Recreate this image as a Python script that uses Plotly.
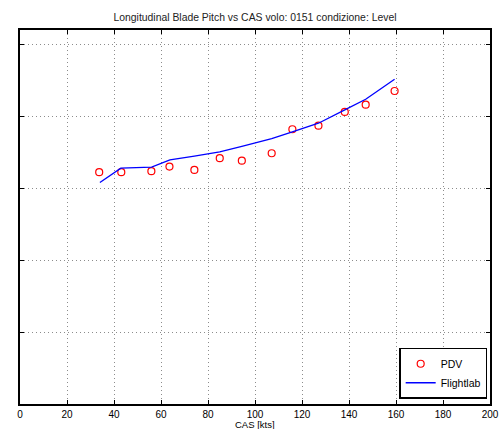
import plotly.graph_objects as go

# PDV flight data (CAS [kts], longitudinal blade pitch, axis units)
pdv_cas = [33.7, 43.1, 55.9, 63.6, 74.2, 85.0, 94.4, 107.1, 115.9, 127.0, 138.2, 147.1, 159.4]
pdv_pitch = [3.222, 3.222, 3.236, 3.300, 3.254, 3.417, 3.383, 3.486, 3.819, 3.869, 4.060, 4.161, 4.351]

# Flightlab simulation
fl_cas = [34.0, 42.9, 56.0, 63.8, 74.2, 85.0, 94.4, 107.1, 115.9, 127.0, 138.2, 147.1, 159.4]
fl_pitch = [3.078, 3.278, 3.292, 3.393, 3.446, 3.504, 3.581, 3.690, 3.782, 3.903, 4.088, 4.236, 4.514]

x_ticks = [0, 20, 40, 60, 80, 100, 120, 140, 160, 180, 200]
y_ticks = [0, 1, 2, 3, 4, 5]

title_text = "Longitudinal Blade Pitch vs CAS volo: 0151 condizione: Level"
x_title = "CAS [kts]"

font_family = "Liberation Sans, Arial, Helvetica, sans-serif"

fig = go.Figure()
fig.add_trace(go.Scatter(
    x=pdv_cas, y=pdv_pitch, mode="markers", name="PDV",
    marker=dict(symbol="circle-open", size=7, color="#ff0000", line=dict(width=1.2, color="#ff0000")),
))
fig.add_trace(go.Scatter(
    x=fl_cas, y=fl_pitch, mode="lines", name="Flightlab",
    line=dict(color="#0000ff", width=1.3),
))

axis_common = dict(
    showline=True, linecolor="black", linewidth=1.5, mirror="ticks",
    ticks="inside", ticklen=4, tickcolor="black", tickwidth=1,
    showgrid=True, gridcolor="#8c8c8c", griddash="1px,3px", gridwidth=1,
    zeroline=False, automargin=False,
)

fig.update_layout(
    width=502, height=429,
    margin=dict(l=20, r=12, t=30, b=25, autoexpand=False),
    paper_bgcolor="white", plot_bgcolor="white",
    font=dict(family=font_family, size=10, color="black"),
    title=dict(text=title_text, x=(255 / 502), xanchor="center", y=1 - 17 / 429, yanchor="middle",
               font=dict(size=10.4, color="#222")),
    xaxis=dict(range=[0, 200], tickvals=x_ticks, ticktext=[str(v) for v in x_ticks],
               tickfont=dict(size=10), **axis_common),
    yaxis=dict(range=[0, 5.199], tickvals=y_ticks, showticklabels=False, **axis_common),
    legend=dict(x=0.994, y=0.014, xanchor="right", yanchor="bottom",
                bgcolor="white", bordercolor="black", borderwidth=1.5,
                font=dict(size=10.5), itemwidth=30, tracegroupgap=0),
    showlegend=True,
    annotations=[dict(text=x_title, xref="paper", yref="paper", x=0.5, y=-(424.6 - 404.3) / 374.3,
                      xanchor="center", yanchor="middle", showarrow=False, font=dict(size=9.5))],
)

fig.write_html(
    "out.html",
    config={"displayModeBar": False},
    post_script="document.body.style.margin='0';document.body.style.padding='0';"
                "document.body.style.overflow='hidden';",
)
